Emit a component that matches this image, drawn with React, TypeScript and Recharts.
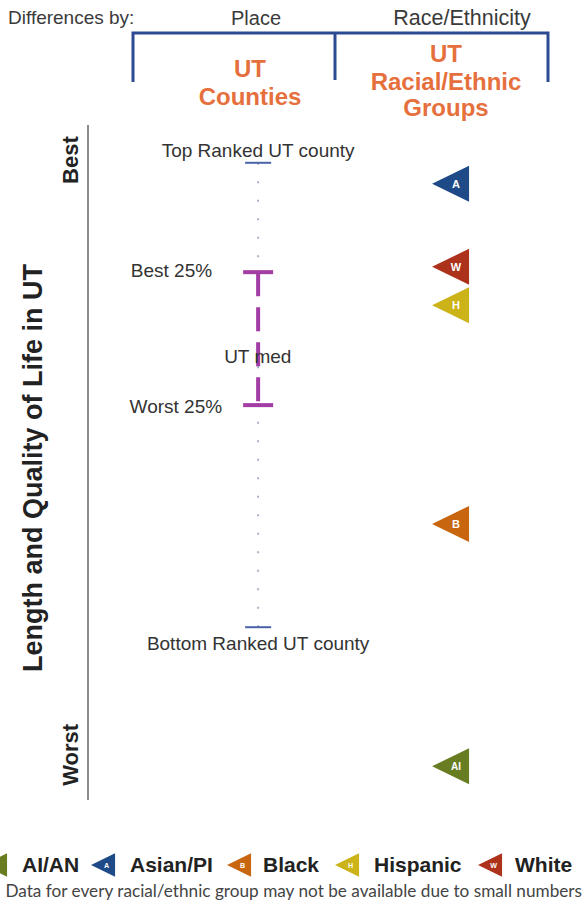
import { Customized, ReferenceLine, Scatter, ScatterChart, XAxis, YAxis } from 'recharts';

// county distribution summary (score 0 = worst, 100 = best)
const countyLabels = ['Top Ranked UT county', 'Best 25%', 'UT med', 'Worst 25%', 'Bottom Ranked UT county'];
const countyScores = [94.4, 78.2, 65.5, 58.5, 25.6];

// racial/ethnic groups
const raceCodes = ['A', 'W', 'H', 'B', 'AI'];
const raceNames = ['Asian/PI', 'White', 'Hispanic', 'Black', 'AI/AN'];
const raceScores = [91.3, 79.0, 73.3, 40.9, 5.0];

const legendOrder = ['AI', 'A', 'B', 'H', 'W'];

const sideTicks = [94.8, 6.7];
const sideTickLabels = ['Best', 'Worst'];

// column positions on the hidden x axis
const COUNTY_COL = 34.3;
const RACE_COL = 73.4;

const raceColors: Record<string, string> = {
  AI: '#687d22',
  A: '#1e4b88',
  B: '#c8650f',
  H: '#cbb318',
  W: '#ad321c',
};

const FONT = '"Liberation Sans", Arial, sans-serif';
const TEXT = '#333333';
const ORANGE = '#e5703d';
const PURPLE = '#a33ca5';
const BLUE = '#2b4c93';

const countyData = countyLabels.map((label, i) => ({ x: COUNTY_COL, y: countyScores[i], label, idx: i }));
const raceData = raceCodes.map((code, i) => ({ x: RACE_COL, y: raceScores[i], code, name: raceNames[i] }));

const CountyMark = ({ cx, cy, payload }: any) => {
  if (cx == null || cy == null || !payload) return null;
  const i = payload.idx;
  if (i === 0 || i === 4) {
    return (
      <g>
        <line x1={cx - 13} x2={cx + 13} y1={cy} y2={cy} stroke="#4a62a8" strokeWidth={2} />
        <text
          x={cx}
          y={i === 0 ? cy - 6 : cy + 23}
          textAnchor="middle"
          fontFamily={FONT}
          fontSize={19}
          fill={TEXT}
        >
          {payload.label}
        </text>
      </g>
    );
  }
  if (i === 2) {
    return (
      <text x={cx - 34} y={cy + 5} fontFamily={FONT} fontSize={19} fill={TEXT}>
        {payload.label}
      </text>
    );
  }
  return (
    <g>
      <line x1={cx - 15} x2={cx + 15} y1={cy} y2={cy} stroke={PURPLE} strokeWidth={4} />
      <text
        x={i === 1 ? cx - 46 : cx - 36}
        y={i === 1 ? cy + 5 : cy + 8}
        textAnchor="end"
        fontFamily={FONT}
        fontSize={19}
        fill={TEXT}
      >
        {payload.label}
      </text>
    </g>
  );
};

const Triangle = ({ x, y, code, scale, showCode = true }: { x: number; y: number; code: string; scale: number; showCode?: boolean }) => {
  const tip = 20 * scale;
  const back = 17 * scale;
  const half = 18 * scale;
  return (
    <g>
      <path
        d={`M${x - tip},${y} L${x + back},${y - half} L${x + back},${y + half} Z`}
        fill={raceColors[code]}
      />
      {showCode ? (
        <text
          x={x + 4 * scale}
          y={y + 4 * scale}
          textAnchor="middle"
          fontFamily={FONT}
          fontWeight="bold"
          fontSize={(code === 'AI' ? 10 : 11) * scale}
          fill="#ffffff"
        >
          {code}
        </text>
      ) : null}
    </g>
  );
};

const RaceMark = ({ cx, cy, payload }: any) => {
  if (cx == null || cy == null || !payload) return null;
  return <Triangle x={cx} y={cy} code={payload.code} scale={1} />;
};

const SideTick = ({ x, y, payload }: any) => {
  const i = sideTicks.indexOf(payload.value);
  const bx = x - 10;
  return (
    <text
      x={bx}
      y={y}
      transform={`rotate(-90 ${bx} ${y})`}
      textAnchor="middle"
      fontFamily={FONT}
      fontWeight="bold"
      fontSize={22}
      fill="#222"
    >
      {sideTickLabels[i]}
    </text>
  );
};

// legend layout: icon centre x and text start x
const legendIconX = [-4, 104, 240, 348, 491];
const legendTextX = [22, 130, 263, 374, 515];

const Decor = () => (
  <g fontFamily={FONT}>
    <text x={8} y={24} fontSize={19} fill="#3a3a3a">
      Differences by:
    </text>
    <text x={256} y={25} fontSize={20} fill="#3a3a3a" textAnchor="middle">
      Place
    </text>
    <text x={462} y={25} fontSize={21.5} fill="#3a3a3a" textAnchor="middle">
      Race/Ethnicity
    </text>
    <path d="M133 82 V33 H548 V82 M335 33 V80" stroke={BLUE} strokeWidth={3} fill="none" />
    <g fontWeight="bold" fontSize={24} fill={ORANGE} textAnchor="middle">
      <text x={250} y={77}>UT</text>
      <text x={250} y={105}>Counties</text>
      <text x={446} y={62}>UT</text>
      <text x={446} y={90}>Racial/Ethnic</text>
      <text x={446} y={116}>Groups</text>
    </g>
    <text
      x={42}
      y={468}
      transform="rotate(-90 42 468)"
      textAnchor="middle"
      fontWeight="bold"
      fontSize={27}
      fill="#222"
    >
      Length and Quality of Life in UT
    </text>
    {legendOrder.map((code, i) => (
      <g key={code}>
        <Triangle x={legendIconX[i]} y={865} code={code} scale={0.65} showCode={legendIconX[i] > 5} />
        <text x={legendTextX[i]} y={872} fontWeight="bold" fontSize={21} fill="#222">
          {raceNames[raceCodes.indexOf(code)]}
        </text>
      </g>
    ))}
    <text x={582} y={897} textAnchor="end" fontFamily="Lato, sans-serif" fontSize={17.2} fill="#444">
      Data for every racial/ethnic group may not be available due to small numbers
    </text>
  </g>
);

export default function App() {
  return (
    <div style={{ position: 'absolute', left: 0, top: 0, width: 584, height: 911, background: '#fff' }}>
      <ScatterChart width={584} height={911} margin={{ top: 125, right: 0, bottom: 111, left: 0 }}>
        <XAxis type="number" dataKey="x" domain={[0, 100]} hide />
        <YAxis
          type="number"
          dataKey="y"
          domain={[0, 100]}
          width={88}
          ticks={sideTicks}
          interval={0}
          tickLine={false}
          tickSize={0}
          tickMargin={0}
          tick={<SideTick />}
          axisLine={{ stroke: '#8c8c8c', strokeWidth: 2 }}
        />
        <ReferenceLine
          segment={[
            { x: COUNTY_COL, y: countyScores[0] },
            { x: COUNTY_COL, y: countyScores[4] },
          ]}
          stroke="#8f9bb8"
          strokeWidth={1.5}
          strokeDasharray="2 16.5"
        />
        <ReferenceLine
          segment={[
            { x: COUNTY_COL, y: countyScores[1] },
            { x: COUNTY_COL, y: countyScores[3] },
          ]}
          stroke={PURPLE}
          strokeWidth={4}
          strokeDasharray="24 11"
        />
        <Scatter data={countyData} shape={<CountyMark />} isAnimationActive={false} />
        <Scatter data={raceData} shape={<RaceMark />} isAnimationActive={false} />
        <Customized component={<Decor />} />
      </ScatterChart>
    </div>
  );
}
